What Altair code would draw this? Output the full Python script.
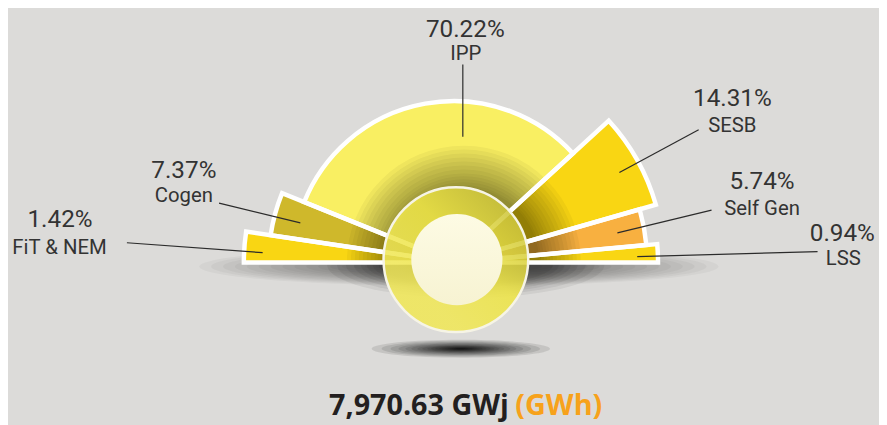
import math
import altair as alt
import pandas as pd

# ---------------- data ----------------
categories = ["FiT & NEM", "Cogen", "IPP", "SESB", "Self Gen", "LSS"]
shares = [1.42, 7.37, 70.22, 14.31, 5.74, 0.94]
sweep_deg = [8.5, 13.5, 115.5, 26.5, 10.8, 5.2]   # angular width of each petal
petal_len = [212, 187, 163, 212, 195, 206]          # petal length
total_label = "7,970.63 GWj"
unit_label = "(GWh)"

# ---------------- styles / layout ----------------
colors = ["#F9D613", "#CFB82B", "#F9EF62", "#F9D613", "#F8B040", "#F9D613"]
W, H = 879, 417
CX, CY = 450, 255
BG = "#DCDBD9"
LABEL_FONT = "Roboto"
TEXT_COLOR = "#333333"
LEFT, RIGHT = 1.5 * math.pi, 2.5 * math.pi   # 9 o'clock -> 3 o'clock over the top

pct_pos = [(52.5, 219), (177.5, 170), (461.5, 27), (731, 97), (761, 181), (842, 233)]
name_pos = [(52, 246), (177.5, 194), (462, 51), (731, 123), (761, 207), (843, 257)]
leader_from = [(120, 235), (213, 195), (459, 55), (697, 121), (710, 202), (817, 244)]
leader_to = [(257, 245), (295, 215), (459, 128), (617, 164), (615, 225), (635, 249)]

# decorative soft shadows (stacked translucent shapes)
floor_half_widths = [262, 250, 238, 226, 214, 202, 190, 178, 166, 154, 142, 130,
                     118, 106, 95, 84, 73, 62, 52, 42, 32, 22]
core_half_widths = [140, 130, 121, 113, 106, 100, 94, 88]
drop_half_widths = [90, 80, 71, 63, 56, 50, 44, 39, 34, 30, 26, 22, 19, 16, 13, 11, 9, 7, 5]
shade_radii = [118, 114, 110, 106, 102, 98, 94, 90, 87, 84, 81, 78, 76]

sectors = pd.DataFrame({
    "idx": list(range(len(categories))),
    "name": categories,
    "sweep": sweep_deg,
    "r": petal_len,
})

labels = pd.DataFrame({
    "pct": [f"{v:.2f}%" for v in shares],
    "name": categories,
    "px": [p[0] for p in pct_pos],
    "py": [p[1] for p in pct_pos],
    "nx": [p[0] for p in name_pos],
    "ny": [p[1] for p in name_pos],
    "x1": [p[0] for p in leader_from],
    "y1": [p[1] for p in leader_from],
    "x2": [p[0] for p in leader_to],
    "y2": [p[1] for p in leader_to],
})

one = pd.DataFrame({"k": [0]})

theta_scale = alt.Scale(domain=[0, 180], range=[LEFT, RIGHT])
radius_scale = alt.Scale(type="linear", domain=[0, 220], range=[0, 220])


def ellipse_path(k):
    return f"M -1 0 A 1 {k} 0 1 1 1 0 A 1 {k} 0 1 1 -1 0 Z"


def soft_ellipse(half_widths, k, alpha, cx, cy):
    return alt.Chart(pd.DataFrame({"s": [(2 * a) ** 2 for a in half_widths]})).mark_point(
        shape=ellipse_path(k), filled=True, color="#000000", opacity=alpha, strokeWidth=0
    ).encode(x=alt.value(cx), y=alt.value(cy), size=alt.Size("s:Q", scale=None))


# long soft shadow under the fan, plus a denser one under the hub
floor_shadow = soft_ellipse(floor_half_widths, 0.075, 0.035, CX + 5, CY + 4)
core_shadow = soft_ellipse(core_half_widths, 0.24, 0.06, CX + 12, CY + 2)

petal_base = alt.Chart(sectors).transform_window(
    end="sum(sweep)", sort=[alt.SortField("idx", order="ascending")]
).transform_calculate(start="datum.end - datum.sweep")

petals = petal_base.mark_arc().encode(
    theta=alt.Theta("start:Q", scale=theta_scale),
    theta2="end:Q",
    radius=alt.Radius("r:Q", scale=radius_scale),
    color=alt.Color("name:N", scale=alt.Scale(domain=categories, range=colors), legend=None),
    x=alt.value(CX), y=alt.value(CY),
)

shade = alt.Chart(pd.DataFrame({"sr": shade_radii})).mark_arc(
    theta=LEFT, theta2=RIGHT, color="#1e1e00", opacity=0.045
).encode(radius=alt.Radius("sr:Q", scale=None, stack=None),
         x=alt.value(CX + 10), y=alt.value(CY))

outlines = petal_base.mark_arc(
    fill="#000000", fillOpacity=0, stroke="white", strokeWidth=4.5, strokeJoin="miter"
).encode(
    theta=alt.Theta("start:Q", scale=theta_scale),
    theta2="end:Q",
    radius=alt.Radius("r:Q", scale=radius_scale),
    x=alt.value(CX), y=alt.value(CY),
)

drop_shadow = soft_ellipse(drop_half_widths, 0.1, 0.1, 457, 342)

ring = alt.Chart(one).mark_arc(
    theta=0, theta2=2 * math.pi, radius=73,
    fill={"gradient": "linear", "x1": 0.3, "y1": 0.75, "x2": 0.95, "y2": 0.1,
          "stops": [{"offset": 0, "color": "#F0E758"}, {"offset": 0.45, "color": "#EDE447"},
                    {"offset": 1, "color": "#C6BE3A"}]},
    fillOpacity=0.88, stroke="#F6F4E6", strokeWidth=2.5,
).encode(x=alt.value(CX + 2), y=alt.value(CY - 3))

core = alt.Chart(one).mark_arc(
    theta=0, theta2=2 * math.pi, radius=46,
    fill={"gradient": "linear", "x1": 0.5, "y1": 0, "x2": 0.5, "y2": 1,
          "stops": [{"offset": 0, "color": "#FDFBE4"}, {"offset": 1, "color": "#F7F3D2"}]},
).encode(x=alt.value(CX + 3), y=alt.value(CY - 3))

leaders = alt.Chart(labels).mark_rule(color="#2b2b2b", strokeWidth=1.2).encode(
    x=alt.X("x1:Q", scale=None), y=alt.Y("y1:Q", scale=None),
    x2="x2:Q", y2="y2:Q",
)

pct_text = alt.Chart(labels).mark_text(
    font=LABEL_FONT, fontSize=24.5, align="center", baseline="alphabetic", color=TEXT_COLOR
).encode(x=alt.X("px:Q", scale=None), y=alt.Y("py:Q", scale=None), text="pct:N")

name_text = alt.Chart(labels).mark_text(
    font=LABEL_FONT, fontSize=20.5, align="center", baseline="alphabetic", color=TEXT_COLOR
).encode(x=alt.X("nx:Q", scale=None), y=alt.Y("ny:Q", scale=None), text="name:N")

total_text = alt.Chart(pd.DataFrame({"t": [total_label]})).mark_text(
    font="Open Sans", fontWeight="bold", fontSize=29, align="left",
    baseline="alphabetic", color="#231F20"
).encode(x=alt.value(324), y=alt.value(409), text="t:N")

unit_text = alt.Chart(pd.DataFrame({"t": [unit_label]})).mark_text(
    font="Open Sans", fontWeight="bold", fontSize=29, align="left",
    baseline="alphabetic", color="#F7A21B"
).encode(x=alt.value(512), y=alt.value(409), text="t:N")

chart = alt.layer(
    floor_shadow, core_shadow, petals, shade, outlines, drop_shadow, ring, core,
    leaders, pct_text, name_text, total_text, unit_text,
).properties(
    width=W, height=H, padding=0, autosize=alt.AutoSizeParams(type="none")
).configure(background=BG).configure_view(stroke=None)

chart.save("out.html", embed_options={"renderer": "svg", "actions": False})
